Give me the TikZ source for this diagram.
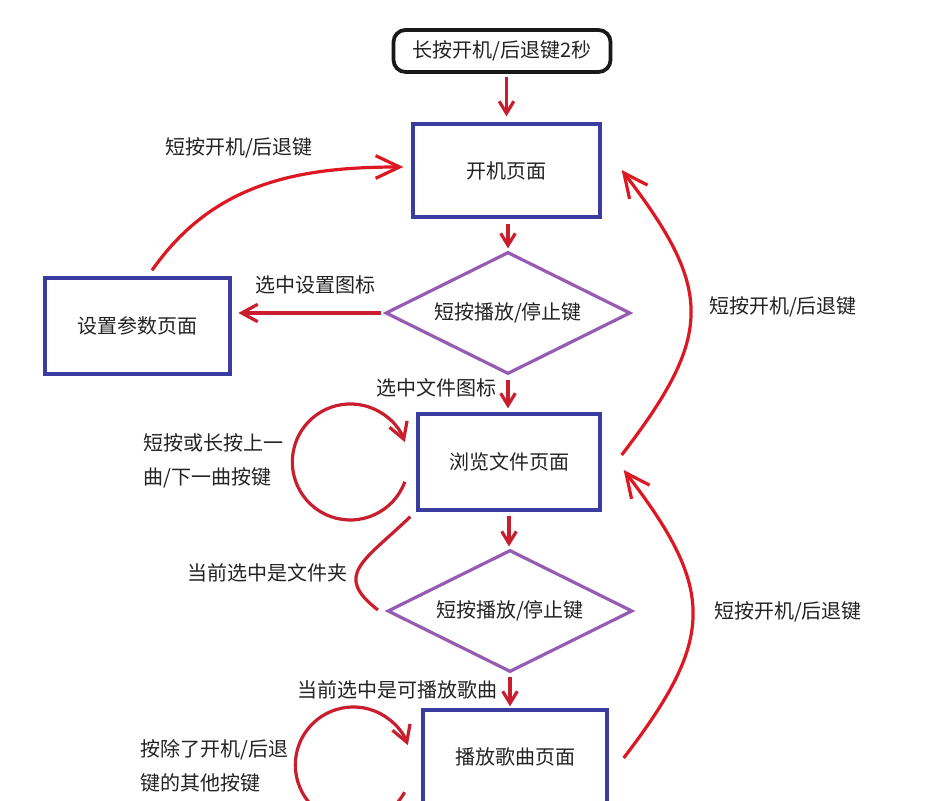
\documentclass[tikz,border=0pt]{standalone}
\usepackage{fontspec}
\setmainfont{Noto Sans CJK SC}
\usetikzlibrary{arrows.meta,shapes.geometric,calc}
\definecolor{boxblue}{RGB}{58,60,160}
\definecolor{dpurple}{RGB}{150,92,180}
\definecolor{ared}{RGB}{200,30,45}
\definecolor{cred}{RGB}{222,24,34}
\definecolor{txt}{RGB}{35,35,35}
\begin{document}
\begin{tikzpicture}[x=0.75pt,y=0.75pt,
  lbl/.style={font=\fontsize{15pt}{25.5pt}\selectfont, text=txt, inner sep=0pt},
  startbox/.style={lbl, draw=black!90, line width=2.8pt, rounded corners=9pt, minimum width=162.75pt, minimum height=31.5pt},
  pagebox/.style={lbl, draw=boxblue, line width=2.5pt, rectangle},
  decision/.style={lbl, draw=dpurple, line width=2.4pt, diamond, aspect=2, minimum width=183.75pt, minimum height=91.5pt},
  downarr/.style={draw=ared, line width=2.4pt, -{Straight Barb[length=9pt,width=11pt]}},
  leftarr/.style={draw=ared, line width=2.4pt, -{Straight Barb[length=12pt,width=13pt]}},
  looparr/.style={draw=ared, line width=2.4pt, -{Straight Barb[length=12pt,width=14pt]}},
  bigarr/.style={draw=cred, line width=2.4pt, -{Straight Barb[length=18pt,width=17pt]}},
  plaincurve/.style={draw=ared, line width=2.4pt}]
\useasboundingbox (0,0) rectangle (945,800);
\fill[white] (0,0) rectangle (945,800);
\clip (0,0) rectangle (945,800);

% nodes
\node[startbox] (start) at (502,749) {长按开机/后退键2秒};
\node[pagebox, minimum width=140.25pt, minimum height=69.75pt] (boot) at (506.5,629.5) {开机页面};
\node[decision] (d1) at (508,487) {短按播放/停止键};
\node[pagebox, minimum width=138.75pt, minimum height=72pt] (setp) at (137.5,474) {设置参数页面};
\node[pagebox, minimum width=136.5pt, minimum height=72pt] (browse) at (509,338) {浏览文件页面};
\node[decision] (d2) at (510,189) {短按播放/停止键};
\node[pagebox, minimum width=138pt, minimum height=69.75pt] (play) at (515,43.5) {播放歌曲页面};

% labels
\node[lbl] (lb1) at (239,652) {短按开机/后退键};
\node[lbl] (lb2) at (315,515) {选中设置图标};
\node[lbl] (lb3) at (436,412) {选中文件图标};
\node[lbl, anchor=west, align=left] (lb4) at (143,339.5) {短按或长按上一\\曲/下一曲按键};
\node[lbl] (lb5) at (267,227) {当前选中是文件夹};
\node[lbl] (lb6) at (397,110) {当前选中是可播放歌曲};
\node[lbl, anchor=west, align=left] (lb7) at (140,34) {按除了开机/后退\\键的其他按键};
\node[lbl] (lb8) at (783,493) {短按开机/后退键};
\node[lbl] (lb9) at (788,188) {短按开机/后退键};

% straight connectors
\draw[downarr, shorten <=2.25pt, shorten >=4.5pt] (start.south -| boot.north) -- (boot.north);
\draw[downarr, shorten <=3.75pt, shorten >=1.5pt] (d1.north |- boot.south) -- (d1.north);
\draw[leftarr, shorten <=2.25pt, shorten >=5pt] (d1.west) -- (setp.east |- d1.west);
\draw[downarr, shorten <=3pt, shorten >=3pt] (d1.south) -- (d1.south |- browse.north);
\draw[downarr, shorten <=3pt, shorten >=1.5pt] (browse.south) -- (browse.south |- d2.north);
\draw[downarr, shorten <=2.25pt, shorten >=1.5pt] (d2.south) -- (d2.south |- play.north);

% curved connectors
\draw[bigarr] ($(setp.north)+(14.5,6)$) to[out=55,in=180] ($(boot.west)+(-8,3.5)$);
\draw[looparr] ($(browse.west)+(-11.5,-19.8)$) arc[start angle=-20, end angle=-340, radius=58];
\draw[plaincurve] ($(d2.west)+(-8,1)$) .. controls +(-45,35) and +(-47,-45) .. ($(browse.south west)+(-6,-5)$);
\draw[looparr] ($(play.west)+(-16.8,-35.7)$) arc[start angle=-28, end angle=-340, radius=58];
\draw[bigarr] ($(browse.east)+(20,7)$) .. controls +(92,120) and +(92,-120) .. ($(boot.east)+(20,0.5)$);
\draw[bigarr] ($(play.east)+(15,-1.5)$) .. controls +(92,120) and +(92,-120) .. ($(browse.east)+(22,-8)$);
\end{tikzpicture}
\end{document}
